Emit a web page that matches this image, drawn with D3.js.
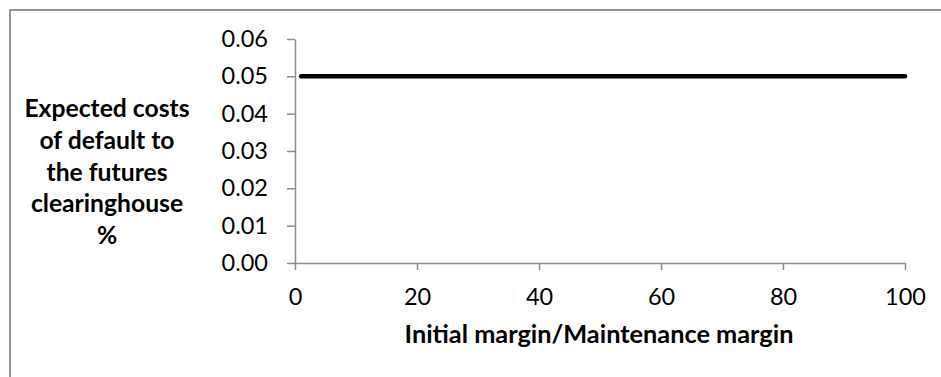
<!DOCTYPE html>
<html>
<head>
<meta charset="utf-8">
<script src="https://cdn.jsdelivr.net/npm/d3@7"></script>
<style>
  html, body { margin: 0; padding: 0; background: #fff; }
  svg { display: block; }
  text { font-family: Lato, "Open Sans", sans-serif; fill: #000; }
</style>
</head>
<body>
<svg id="chart" width="941" height="377"></svg>
<script>
// ---- data ----
const xValues = [1, 100];
const yValues = [0.05, 0.05];
const xTicks = [0, 20, 40, 60, 80, 100];
const yTicks = [0, 0.01, 0.02, 0.03, 0.04, 0.05, 0.06];
const xTitle = "Initial margin/Maintenance margin";
const yTitleLines = ["Expected costs", "of default to", "the futures", "clearinghouse", "%"];

const svg = d3.select("#chart");
const W = 941, H = 377;

// chart border (extends past bottom/right of the visible window)
svg.append("rect")
  .attr("x", 10).attr("y", 10)
  .attr("width", W + 20).attr("height", H + 20)
  .attr("fill", "#fff")
  .attr("stroke", "#878787").attr("stroke-width", 1.75);

const plot = { left: 295, right: 905, top: 39, bottom: 263 };

const x = d3.scaleLinear().domain([0, 100]).range([plot.left, plot.right]);
const y = d3.scaleLinear().domain([0, 0.06]).range([plot.bottom, plot.top]);

const axisColor = "#8c8c8c";

// y axis
const gy = svg.append("g")
  .attr("transform", `translate(${plot.left},0)`)
  .call(d3.axisLeft(y).tickValues(yTicks).tickFormat(d3.format(".2f")).tickSizeInner(8).tickSizeOuter(0).tickPadding(19));
gy.select(".domain").attr("stroke", axisColor).attr("stroke-width", 1.5);
gy.selectAll(".tick line").attr("stroke", axisColor).attr("stroke-width", 1.5);
gy.selectAll(".tick text").attr("font-size", 23.5).attr("font-family", "Lato, sans-serif").attr("fill", "#000");

// x axis
const gx = svg.append("g")
  .attr("transform", `translate(0,${plot.bottom})`)
  .call(d3.axisBottom(x).tickValues(xTicks).tickFormat(d3.format("d")).tickSizeInner(7).tickSizeOuter(0).tickPadding(7));
gx.select(".domain").attr("stroke", axisColor).attr("stroke-width", 1.5);
gx.selectAll(".tick line").attr("stroke", axisColor).attr("stroke-width", 1.5);
gx.selectAll(".tick text").attr("font-size", 23.5).attr("font-family", "Lato, sans-serif").attr("fill", "#000")
  .attr("dy", null).attr("dominant-baseline", "hanging").attr("y", 24);

// series line
const pts = xValues.map((v, i) => [v, yValues[i]]);
svg.append("path")
  .datum(pts)
  .attr("fill", "none")
  .attr("stroke", "#000")
  .attr("stroke-width", 4.5)
  .attr("stroke-linecap", "round")
  .attr("d", d3.line().x(d => x(d[0])).y(d => y(d[1])));

// x title
svg.append("text")
  .attr("x", (plot.left + plot.right) / 2 - 1)
  .attr("y", 343)
  .attr("text-anchor", "middle")
  .attr("font-weight", "bold")
  .attr("font-size", 25.3)
  .text(xTitle);

// y title
const yt = svg.append("text")
  .attr("text-anchor", "middle")
  .attr("font-weight", "bold")
  .attr("font-size", 24.7);
yTitleLines.forEach((t, i) => {
  yt.append("tspan").attr("x", 107).attr("y", 117 + i * 31.8).text(t);
});
</script>
</body>
</html>
